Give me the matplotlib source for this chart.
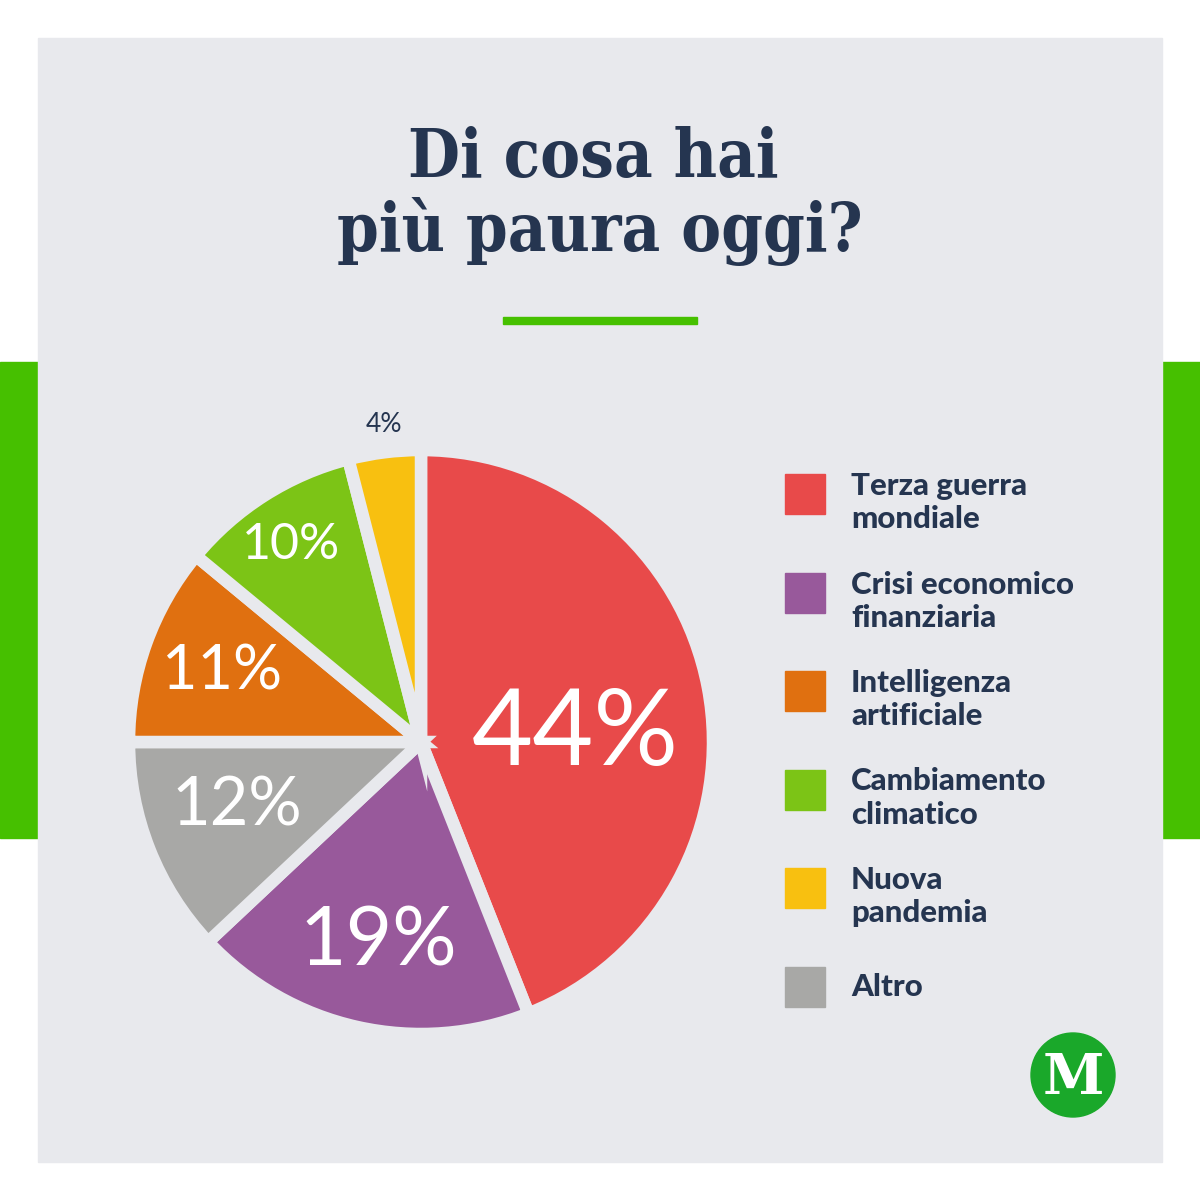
import matplotlib
matplotlib.use("Agg")
import matplotlib.pyplot as plt
from matplotlib.patches import Rectangle, Circle

categories = ["Terza guerra\nmondiale", "Crisi economico\nfinanziaria", "Altro",
              "Intelligenza\nartificiale", "Cambiamento\nclimatico", "Nuova\npandemia"]
values = [44, 19, 12, 11, 10, 4]
colors = ["#e84a4a", "#98599b", "#a8a8a6", "#e07010", "#7cc416", "#f8c010"]
legend_order = [0, 1, 3, 4, 5, 2]
pct_labels = ["44%", "19%", "12%", "11%", "10%", "4%"]

BG = "#e8e9ed"
NAVY = "#253550"
GREEN = "#46c000"

fig = plt.figure(figsize=(12, 12), dpi=100)
fig.patch.set_facecolor("white")
ax = fig.add_axes([0, 0, 1, 1])

wedges, _ = ax.pie(values, colors=colors, startangle=90, counterclock=False,
                   center=(421, 458), radius=292,
                   wedgeprops=dict(edgecolor=BG, linewidth=9))
for w in wedges:
    w.set_zorder(2)

ax.set_xlim(0, 1200); ax.set_ylim(0, 1200); ax.set_aspect("equal"); ax.axis("off")

ax.add_patch(Rectangle((0, 362), 38, 476, color=GREEN, zorder=0))
ax.add_patch(Rectangle((1162, 362), 38, 476, color=GREEN, zorder=0))
ax.add_patch(Rectangle((38, 38), 1124, 1124, color=BG, zorder=1))

for txt, x, y in [("Di cosa hai", 593, 1042), ("più paura oggi?", 600, 968)]:
    ax.text(x, y, txt, ha="center", va="center", fontsize=48, fontstretch="condensed",
            fontfamily="DejaVu Serif", fontweight="bold", color=NAVY, zorder=3)
ax.add_patch(Rectangle((503, 876), 194, 7, color=GREEN, zorder=3))

label_pos = [(575, 465), (378, 258), (237, 394), (222, 528), (291, 655), (384, 775)]
label_size = [76, 58, 48, 44, 36, 19]
label_col = ["white"] * 5 + [NAVY]
for t, (x, y), s, c in zip(pct_labels, label_pos, label_size, label_col):
    ax.text(x, y, t, ha="center", va="center", fontsize=s, color=c,
            fontfamily="Lato", zorder=4)

for i, k in enumerate(legend_order):
    yc = 706 - i * 98.5
    ax.add_patch(Rectangle((785, yc - 20), 40, 40, color=colors[k], zorder=3))
    if "\n" in categories[k]:
        ax.text(851, yc + 22, categories[k], ha="left", va="top",
                fontsize=22.5, fontfamily="Lato", fontweight="heavy",
                color=NAVY, linespacing=1.22, zorder=3)
    else:
        ax.text(851, yc - 1, categories[k], ha="left", va="center",
                fontsize=22.5, fontfamily="Lato", fontweight="heavy",
                color=NAVY, zorder=3)

ax.add_patch(Circle((1073, 125), 42, color="#1aa82a", zorder=3))
ax.text(1073, 122, "M", ha="center", va="center", fontsize=40, color="white",
        fontfamily="DejaVu Serif", fontweight="bold", zorder=4)

fig.savefig("out.png", dpi=100, facecolor="white")
